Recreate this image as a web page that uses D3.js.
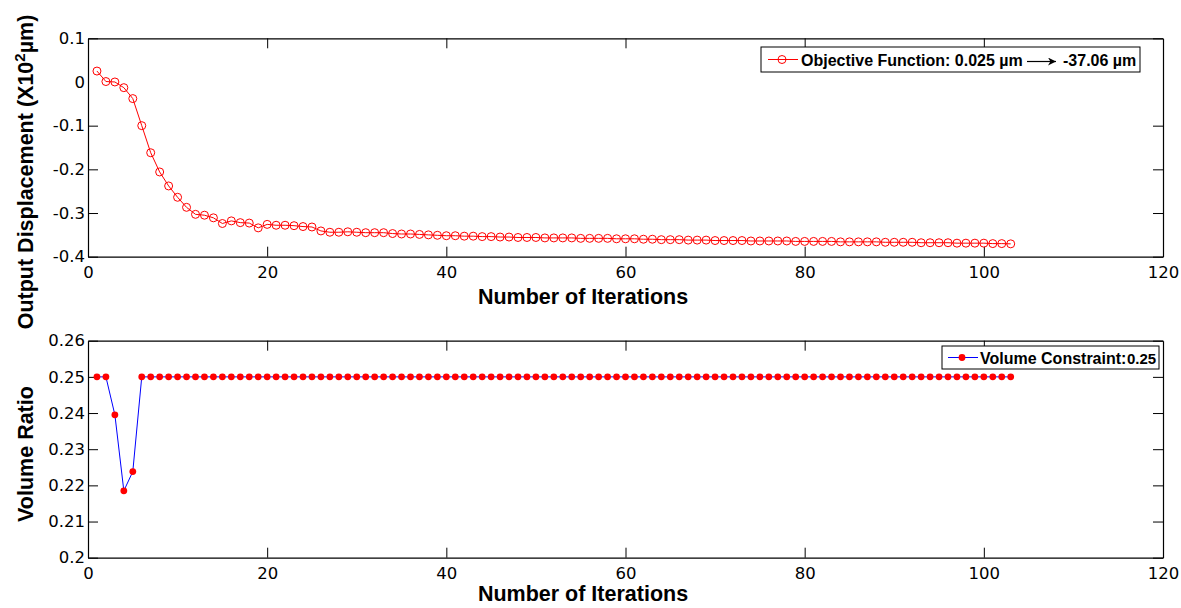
<!DOCTYPE html>
<html>
<head>
<meta charset="utf-8">
<script src="https://cdn.jsdelivr.net/npm/d3@7"></script>
<style>
  html, body { margin: 0; padding: 0; background: #fff; }
  svg { display: block; }
  .tick text { font-family: "DejaVu Sans", sans-serif; font-size: 16.5px; fill: #000; }
  .title { font-family: "Liberation Sans", Arial, sans-serif; font-weight: bold; font-size: 21.5px; fill: #000; }
  .legend { font-family: "Liberation Sans", Arial, sans-serif; font-weight: bold; font-size: 16px; fill: #000; }
</style>
</head>
<body>
<svg width="1181" height="608"></svg>
<script>
// iterations 1..103
const iterations = d3.range(1, 104);

// output displacement (x10^2 um)
const displacement = [
  0.025, 0.001, 0.000, -0.013, -0.038, -0.100, -0.162, -0.206, -0.238, -0.264,
  -0.287, -0.303, -0.305, -0.311, -0.324, -0.318, -0.322, -0.323, -0.334, -0.326,
  -0.328, -0.328, -0.329, -0.331, -0.332, -0.341, -0.344, -0.344, -0.343, -0.344,
  -0.345, -0.345, -0.345, -0.347, -0.348, -0.348, -0.349, -0.350, -0.351, -0.352,
  -0.352, -0.353, -0.353, -0.354, -0.354, -0.355, -0.355, -0.356, -0.356, -0.356,
  -0.357, -0.357, -0.357, -0.357, -0.358, -0.358, -0.358, -0.358, -0.359, -0.359,
  -0.359, -0.360, -0.360, -0.361, -0.361, -0.361, -0.362, -0.362, -0.362, -0.363,
  -0.363, -0.363, -0.363, -0.364, -0.364, -0.364, -0.364, -0.364, -0.365, -0.365,
  -0.365, -0.365, -0.365, -0.366, -0.366, -0.366, -0.366, -0.366, -0.367, -0.367,
  -0.367, -0.367, -0.368, -0.368, -0.368, -0.368, -0.369, -0.369, -0.369, -0.369,
  -0.370, -0.370, -0.3706
];

// volume ratio
const volume = [
  0.25, 0.25, 0.2395, 0.2185, 0.2238, 0.25, 0.25, 0.25, 0.25, 0.25,
  0.25, 0.25, 0.25, 0.25, 0.25, 0.25, 0.25, 0.25, 0.25, 0.25,
  0.25, 0.25, 0.25, 0.25, 0.25, 0.25, 0.25, 0.25, 0.25, 0.25,
  0.25, 0.25, 0.25, 0.25, 0.25, 0.25, 0.25, 0.25, 0.25, 0.25,
  0.25, 0.25, 0.25, 0.25, 0.25, 0.25, 0.25, 0.25, 0.25, 0.25,
  0.25, 0.25, 0.25, 0.25, 0.25, 0.25, 0.25, 0.25, 0.25, 0.25,
  0.25, 0.25, 0.25, 0.25, 0.25, 0.25, 0.25, 0.25, 0.25, 0.25,
  0.25, 0.25, 0.25, 0.25, 0.25, 0.25, 0.25, 0.25, 0.25, 0.25,
  0.25, 0.25, 0.25, 0.25, 0.25, 0.25, 0.25, 0.25, 0.25, 0.25,
  0.25, 0.25, 0.25, 0.25, 0.25, 0.25, 0.25, 0.25, 0.25, 0.25,
  0.25, 0.25, 0.25
];

const xTicks = [0, 20, 40, 60, 80, 100, 120];
const topYTicks = [0.1, 0, -0.1, -0.2, -0.3, -0.4];
const botYTicks = [0.2, 0.21, 0.22, 0.23, 0.24, 0.25, 0.26];

const svg = d3.select("svg");

const left = 88, right = 1163;
const x = d3.scaleLinear().domain([0, 120]).range([left, right]);

function drawAxes(y, top, bottom, yTicks, yFormat) {
  const g = svg.append("g");
  // bottom
  g.append("g")
    .attr("transform", `translate(0,${bottom})`)
    .call(d3.axisBottom(x).tickValues(xTicks).tickSize(-10).tickSizeOuter(0).tickPadding(10).tickFormat(d3.format("d")));
  // top
  g.append("g")
    .attr("transform", `translate(0,${top})`)
    .call(d3.axisTop(x).tickValues(xTicks).tickSize(-10).tickSizeOuter(0).tickFormat(""));
  // left
  g.append("g")
    .attr("transform", `translate(${left},0)`)
    .call(d3.axisLeft(y).tickValues(yTicks).tickSize(-10).tickSizeOuter(0).tickPadding(3).tickFormat(yFormat));
  // right
  g.append("g")
    .attr("transform", `translate(${right},0)`)
    .call(d3.axisRight(y).tickValues(yTicks).tickSize(-10).tickSizeOuter(0).tickFormat(""));
  g.selectAll(".domain").attr("stroke", "#000").attr("stroke-width", 1.2);
  g.selectAll(".tick line").attr("stroke", "#000");
  // drop the ticks sitting on the box edges
  g.selectAll(".tick").filter(d => d === 0 || d === 120).select("line").remove();
  return g;
}

// ---- top plot ----
const yTop = d3.scaleLinear().domain([-0.4, 0.1]).range([256.7, 38.3]);
drawAxes(yTop, 38.3, 256.7, topYTicks, d => d === 0 ? "0" : d3.format(".1f")(d).replace("−", "-"));

const topPts = iterations.map((it, i) => [it, displacement[i]]);
svg.append("path")
  .datum(topPts)
  .attr("fill", "none")
  .attr("stroke", "#ff0000")
  .attr("stroke-width", 1)
  .attr("d", d3.line().x(d => x(d[0])).y(d => yTop(d[1])));
svg.append("g")
  .selectAll("circle")
  .data(topPts)
  .join("circle")
  .attr("cx", d => x(d[0]))
  .attr("cy", d => yTop(d[1]))
  .attr("r", 4)
  .attr("fill", "none")
  .attr("stroke", "#ff0000")
  .attr("stroke-width", 1);

// ---- bottom plot ----
const yBot = d3.scaleLinear().domain([0.2, 0.26]).range([557.7, 340.7]);
drawAxes(yBot, 340.7, 557.7, botYTicks, d => d3.format(".2~f")(d));

const botPts = iterations.map((it, i) => [it, volume[i]]);
svg.append("path")
  .datum(botPts)
  .attr("fill", "none")
  .attr("stroke", "#0000ff")
  .attr("stroke-width", 1)
  .attr("d", d3.line().x(d => x(d[0])).y(d => yBot(d[1])));
svg.append("g")
  .selectAll("circle")
  .data(botPts)
  .join("circle")
  .attr("cx", d => x(d[0]))
  .attr("cy", d => yBot(d[1]))
  .attr("r", 3.4)
  .attr("fill", "#ff0000");

// ---- axis titles ----
svg.append("text").attr("class", "title")
  .attr("x", 583).attr("y", 304).attr("text-anchor", "middle")
  .text("Number of Iterations");
svg.append("text").attr("class", "title")
  .attr("x", 583).attr("y", 601).attr("text-anchor", "middle")
  .text("Number of Iterations");

const yl = svg.append("text").attr("class", "title")
  .attr("transform", "translate(33,172) rotate(-90)")
  .attr("text-anchor", "middle");
yl.append("tspan").text("Output Displacement (X10");
yl.append("tspan").attr("dy", -8).style("font-size", "15px").text("2");
yl.append("tspan").attr("dy", 8).text("µm)");

svg.append("text").attr("class", "title")
  .attr("transform", "translate(33,454) rotate(-90)")
  .attr("text-anchor", "middle")
  .text("Volume Ratio");

// ---- legends ----
const defs = svg.append("defs");
defs.append("marker")
  .attr("id", "arrowhead")
  .attr("viewBox", "0 -5 10 10")
  .attr("refX", 10).attr("refY", 0)
  .attr("markerWidth", 8).attr("markerHeight", 8)
  .attr("markerUnits", "userSpaceOnUse")
  .attr("orient", "auto")
  .append("path").attr("d", "M0,-5L10,0L0,5L3,0Z").attr("fill", "#000");

const lg1 = svg.append("g");
lg1.append("rect").attr("x", 761).attr("y", 47).attr("width", 379).attr("height", 25)
  .attr("fill", "#fff").attr("stroke", "#000");
lg1.append("line").attr("x1", 768).attr("x2", 798).attr("y1", 59.5).attr("y2", 59.5)
  .attr("stroke", "#ff0000");
lg1.append("circle").attr("cx", 782).attr("cy", 59.5).attr("r", 4)
  .attr("fill", "none").attr("stroke", "#ff0000");
lg1.append("text").attr("class", "legend").attr("x", 801).attr("y", 66)
  .text("Objective Function: 0.025 µm");
lg1.append("line").attr("x1", 1027).attr("x2", 1056).attr("y1", 61.5).attr("y2", 61.5)
  .attr("stroke", "#000").attr("stroke-width", 1.2).attr("marker-end", "url(#arrowhead)");
lg1.append("text").attr("class", "legend").attr("x", 1063).attr("y", 66)
  .text("-37.06 µm");

const lg2 = svg.append("g");
lg2.append("rect").attr("x", 942).attr("y", 346).attr("width", 217).attr("height", 23)
  .attr("fill", "#fff").attr("stroke", "#000");
lg2.append("line").attr("x1", 948).attr("x2", 978).attr("y1", 357.5).attr("y2", 357.5)
  .attr("stroke", "#0000ff");
lg2.append("circle").attr("cx", 962).attr("cy", 357.5).attr("r", 3.4).attr("fill", "#ff0000");
lg2.append("text").attr("class", "legend").attr("x", 980).attr("y", 364)
  .text("Volume Constraint:");
lg2.append("text").attr("class", "legend").attr("x", 1127).attr("y", 364)
  .style("font-size", "15px")
  .text("0.25");
</script>
</body>
</html>
